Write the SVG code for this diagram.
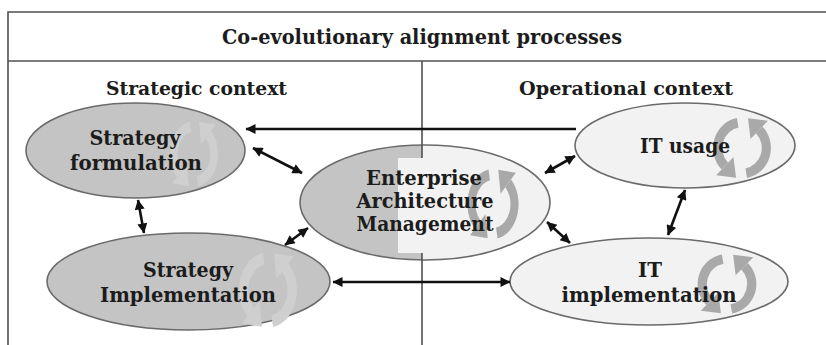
<svg xmlns="http://www.w3.org/2000/svg" width="826" height="345" viewBox="0 0 826 345">
  <style>
    .frame { fill: none; stroke: #505050; stroke-width: 1.6; }
    .head { font-family: "DejaVu Serif", "Liberation Serif", serif; font-weight: bold; fill: #1c1c1c; text-anchor: middle; }
    .lbl { font-family: "DejaVu Serif", "Liberation Serif", serif; font-weight: bold; font-size: 21px; fill: #1c1c1c; text-anchor: middle; }
    .dark { fill: #c4c4c4; stroke: #6a6a6a; stroke-width: 1.6; }
    .light { fill: #f2f2f2; stroke: #6a6a6a; stroke-width: 1.6; }
    .outline { fill: none; stroke: #6a6a6a; stroke-width: 1.6; }
    .link { fill: none; stroke: #111; stroke-width: 2.6; }
    .cyc-l { color: #a9a9a9; }
    .cyc-d { color: #cfcfcf; }
  </style>
  <defs>
    <marker id="ah" viewBox="0 0 10 10" refX="9.5" refY="5" markerWidth="12" markerHeight="10" orient="auto-start-reverse" markerUnits="userSpaceOnUse">
      <path d="M0,0 L10,5 L0,10 z" fill="#111"/>
    </marker>
    <!-- two-arrow cycle icon, centred on 0,0 -->
    <g id="cycle">
      <path d="M -3.5,-19.7 A 20 20 0 0 0 -14.1,14.1" fill="none" stroke="currentColor" stroke-width="7.5"/>
      <path d="M -4.9,23.3 L -21.2,21.2 L -7,7 z" fill="currentColor"/>
      <path d="M 3.5,19.7 A 20 20 0 0 0 14.1,-14.1" fill="none" stroke="currentColor" stroke-width="7.5"/>
      <path d="M 4.9,-23.3 L 21.2,-21.2 L 7,-7 z" fill="currentColor"/>
    </g>
    <clipPath id="eamClip">
      <ellipse cx="425" cy="202.5" rx="125" ry="57.5"/>
    </clipPath>
  </defs>

  <!-- outer frame and context headings -->
  <g id="frame">
    <path class="frame" d="M826,12 H8 V345"/>
    <line class="frame" x1="8" y1="61" x2="826" y2="61"/>
    <text class="head" x="422" y="44" font-size="19.5" textLength="400" lengthAdjust="spacingAndGlyphs">Co-evolutionary alignment processes</text>
    <text class="head" x="196.5" y="95" font-size="19" textLength="181" lengthAdjust="spacingAndGlyphs">Strategic context</text>
    <text class="head" x="626" y="95" font-size="19" textLength="214" lengthAdjust="spacingAndGlyphs">Operational context</text>
  </g>

  <g id="strategy-formulation">
    <ellipse class="dark" cx="135.5" cy="150.5" rx="109.5" ry="47.5"/>
    <use href="#cycle" class="cyc-d" transform="translate(194,154) scale(1.02,1.38)"/>
    <text class="lbl" x="135" y="145" textLength="91" lengthAdjust="spacingAndGlyphs">Strategy</text>
    <text class="lbl" x="136" y="170" textLength="132" lengthAdjust="spacingAndGlyphs">formulation</text>
  </g>

  <g id="strategy-implementation">
    <ellipse class="dark" cx="188.5" cy="281.5" rx="141.5" ry="48.5"/>
    <use href="#cycle" class="cyc-d" transform="translate(268,290) scale(1.22,1.58)"/>
    <text class="lbl" x="188" y="277" textLength="90" lengthAdjust="spacingAndGlyphs">Strategy</text>
    <text class="lbl" x="188" y="302" textLength="176" lengthAdjust="spacingAndGlyphs">Implementation</text>
  </g>

  <g id="enterprise-architecture-management">
    <ellipse cx="425" cy="202.5" rx="125" ry="57.5" fill="#c4c4c4"/>
    <path d="M422,140 H560 V270 H422 V253 H398 V158 H422 z" fill="#f2f2f2" clip-path="url(#eamClip)"/>
    <ellipse class="outline" cx="425" cy="202.5" rx="125" ry="57.5"/>
    <use href="#cycle" class="cyc-l" transform="translate(493,204) scale(1.08,1.47)"/>
    <text class="lbl" x="424" y="185" textLength="116" lengthAdjust="spacingAndGlyphs">Enterprise</text>
    <text class="lbl" x="425" y="208" textLength="137" lengthAdjust="spacingAndGlyphs">Architecture</text>
    <text class="lbl" x="425" y="231" textLength="137" lengthAdjust="spacingAndGlyphs">Management</text>
  </g>

  <!-- divider between the two contexts, interrupted by the central node -->
  <g id="divider">
    <line class="frame" x1="422" y1="61" x2="422" y2="158"/>
    <line class="frame" x1="422" y1="253" x2="422" y2="345"/>
  </g>

  <g id="it-usage">
    <ellipse class="light" cx="685" cy="145.5" rx="110" ry="42.5"/>
    <use href="#cycle" class="cyc-l" transform="translate(742,148) scale(1.22,1.28)"/>
    <text class="lbl" x="685" y="153" textLength="90" lengthAdjust="spacingAndGlyphs">IT usage</text>
  </g>

  <g id="it-implementation">
    <ellipse class="light" cx="649" cy="281.5" rx="139" ry="43.5"/>
    <use href="#cycle" class="cyc-l" transform="translate(727,284) scale(1.24,1.26)"/>
    <text class="lbl" x="650" y="277" textLength="24" lengthAdjust="spacingAndGlyphs">IT</text>
    <text class="lbl" x="649" y="302" textLength="175" lengthAdjust="spacingAndGlyphs">implementation</text>
  </g>

  <g id="connectors">
    <line class="link" x1="576" y1="129" x2="246" y2="129" stroke-width="3" marker-end="url(#ah)"/>
    <line class="link" x1="253" y1="148" x2="302" y2="173" marker-start="url(#ah)" marker-end="url(#ah)"/>
    <line class="link" x1="138" y1="200" x2="144" y2="233" marker-start="url(#ah)" marker-end="url(#ah)"/>
    <line class="link" x1="285" y1="245" x2="308" y2="228" marker-start="url(#ah)" marker-end="url(#ah)"/>
    <line class="link" x1="333" y1="282" x2="510" y2="282" stroke-width="3" marker-start="url(#ah)" marker-end="url(#ah)"/>
    <line class="link" x1="545" y1="173" x2="575" y2="156" marker-start="url(#ah)" marker-end="url(#ah)"/>
    <line class="link" x1="547" y1="222" x2="570" y2="243" marker-start="url(#ah)" marker-end="url(#ah)"/>
    <line class="link" x1="685" y1="190" x2="668" y2="235" marker-start="url(#ah)" marker-end="url(#ah)"/>
  </g>
</svg>
